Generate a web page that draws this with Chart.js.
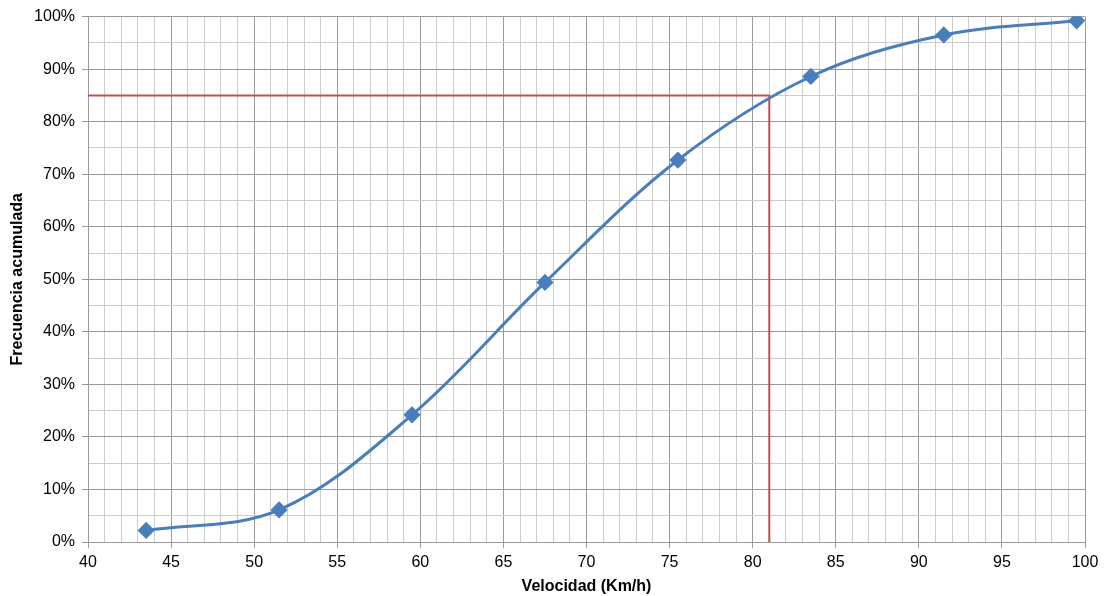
<!DOCTYPE html>
<html>
<head>
<meta charset="utf-8">
<script src="https://cdn.jsdelivr.net/npm/chart.js@4.4.1/dist/chart.umd.min.js"></script>
<style>
  html, body { margin: 0; padding: 0; background: #fff; }
  #wrap { width: 1105px; height: 596px; }
</style>
</head>
<body>
<div id="wrap"><canvas id="chartFrecuencia"></canvas></div>
<script>
// velocidades (marca de clase) y frecuencia acumulada en %
const velocidades = [43.5, 51.5, 59.5, 67.5, 75.5, 83.5, 91.5, 99.5];
const frecuenciaAcumulada = [2.2, 6.1, 24.2, 49.4, 72.7, 88.6, 96.5, 99.2];

// percentil 85
const percentil = 85;
const velocidadP85 = 81;

const xMin = 40, xMax = 100;
const yMin = 0, yMax = 100;

const createChartFrecuencia = (canvasChartId) => {
    const chartStatus = Chart.getChart(canvasChartId);
    if(chartStatus) {
        chartStatus.destroy();
    }

    const puntos = velocidades.map((v, i) => ({ x: v, y: frecuenciaAcumulada[i] }));
    const lineaP85 = [
        { x: xMin, y: percentil },
        { x: velocidadP85, y: percentil },
        { x: velocidadP85, y: yMin }
    ];

    const gridColor = (major) => (ctx) => (ctx.tick && ctx.tick.value % major === 0) ? '#9a9a9a' : '#cccccc';
    const tickColor = (major) => (ctx) => (ctx.tick && ctx.tick.value % major === 0) ? '#9a9a9a' : 'rgba(0,0,0,0)';

    const config = {
        type: 'scatter',
        data: {
            datasets: [
                {
                    data: lineaP85,
                    showLine: true,
                    tension: 0,
                    borderColor: '#C0504D',
                    borderWidth: 2,
                    pointRadius: 0,
                    order: 2
                },
                {
                    data: puntos,
                    showLine: true,
                    tension: 0.35,
                    borderColor: '#4A7EBB',
                    borderWidth: 3,
                    pointStyle: 'rectRot',
                    pointRadius: 6.5,
                    pointBackgroundColor: '#4A7EBB',
                    pointBorderColor: '#4A7EBB',
                    order: 1
                }
            ]
        },
        options: {
            responsive: true,
            maintainAspectRatio: false,
            animation: false,
            layout: { padding: { top: 13, right: 20, left: 8, bottom: 0 } },
            plugins: {
                legend: { display: false },
                tooltip: { enabled: false }
            },
            scales: {
                x: {
                    type: 'linear',
                    min: xMin,
                    max: xMax,
                    afterFit: (s) => { s.height = 54; },
                    ticks: {
                        stepSize: 1,
                        autoSkip: false,
                        maxRotation: 0,
                        padding: 5,
                        color: '#000',
                        font: { family: 'Liberation Sans', size: 16 },
                        callback: (v) => v % 5 === 0 ? v : ''
                    },
                    grid: {
                        color: gridColor(5),
                        tickColor: tickColor(5),
                        tickLength: 6,
                        lineWidth: 1
                    },
                    border: { color: '#9a9a9a' },
                    title: {
                        display: true,
                        text: 'Velocidad (Km/h)',
                        color: '#000',
                        padding: { top: 0, bottom: 0 },
                        font: { family: 'Liberation Sans', size: 16, weight: 'bold' }
                    }
                },
                y: {
                    min: yMin,
                    max: yMax,
                    afterFit: (s) => { s.width = 80; },
                    ticks: {
                        stepSize: 5,
                        autoSkip: false,
                        padding: 7,
                        color: '#000',
                        font: { family: 'Liberation Sans', size: 16 },
                        callback: (v) => v % 10 === 0 ? v + '%' : ''
                    },
                    grid: {
                        color: gridColor(10),
                        tickColor: tickColor(10),
                        tickLength: 6,
                        lineWidth: 1
                    },
                    border: { color: '#9a9a9a' },
                    title: {
                        display: true,
                        text: 'Frecuencia acumulada',
                        color: '#000',
                        padding: { top: 0, bottom: 0 },
                        font: { family: 'Liberation Sans', size: 16, weight: 'bold' }
                    }
                }
            }
        }
    };

    new Chart(document.getElementById(canvasChartId), config);
}

createChartFrecuencia('chartFrecuencia');
</script>
</body>
</html>
